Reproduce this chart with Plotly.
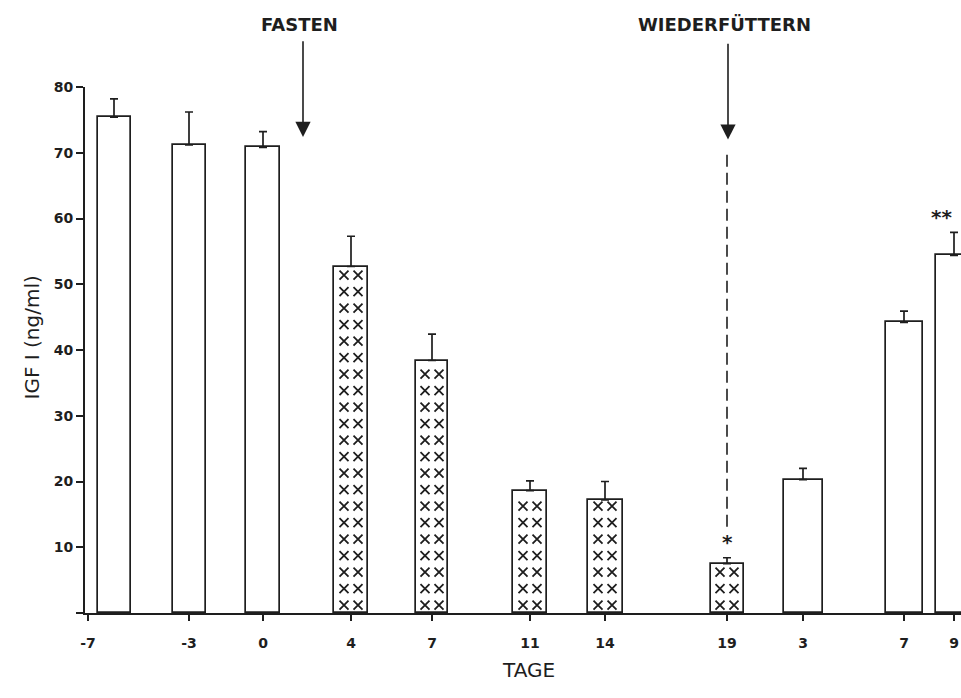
import plotly.graph_objects as go

# ---- data ----
tick_labels = ["-7", "-3", "0", "4", "7", "11", "14", "19", "3", "7", "9"]
igf_mean = [75.4, 71.2, 70.8, 52.7, 38.4, 18.6, 17.2, 7.5, 20.3, 44.2, 54.4]
igf_sem = [2.8, 5.0, 2.4, 4.6, 4.0, 1.5, 2.8, 0.9, 1.7, 1.7, 3.5]
phase = ["fed", "fed", "fed", "fast", "fast", "fast", "fast", "fast", "refed", "refed", "refed"]
signif = ["", "", "", "", "", "", "", "*", "", "", "**"]

# ---- layout (positions / sizes) ----
slot = [29, 104, 178, 266, 347, 445, 520, 642, 718, 819, 869]
bar_w = [33, 33, 34, 34, 32, 34, 35, 33, 39, 37, 36]
tick_pos = [3] + slot[1:]
X_MAX = 876
INK = "#1e1e1e"
FONT = "DejaVu Sans"

fig = go.Figure()

fig.add_trace(go.Bar(
    x=slot, y=igf_mean, width=bar_w,
    marker=dict(color="white", line=dict(color=INK, width=1.7)),
    error_y=dict(type="data", symmetric=False, array=igf_sem,
                 arrayminus=[0] * len(igf_sem), color=INK, thickness=1.7, width=4),
    showlegend=False, hoverinfo="skip",
))

# "XX" hatching inside fasting bars
row_step, row_first = 2.51, 1.2
hx, hy = [], []
for xs, v, ph in zip(slot, igf_mean, phase):
    if ph != "fast":
        continue
    yk = row_first
    while yk <= v - 0.5:
        for dx in (-7, 7):
            hx.append(xs + dx)
            hy.append(yk)
        yk += row_step
fig.add_trace(go.Scatter(
    x=hx, y=hy, mode="markers",
    marker=dict(symbol="x-thin", size=9, line=dict(color=INK, width=1.8)),
    showlegend=False, hoverinfo="skip",
))

annotations = []
# significance stars (kept inside the page at the right edge)
for xs, v, e, s in zip(slot, igf_mean, igf_sem, signif):
    if s:
        near_edge = xs + 12 > X_MAX
        annotations.append(dict(x=min(xs, X_MAX - 1), y=v + e + 2.4, xref="x", yref="y",
                                text="<b>" + s + "</b>", showarrow=False,
                                font=dict(family=FONT, size=20, color=INK),
                                xanchor="right" if near_edge else "center", yanchor="middle"))

# FASTEN arrow + label
annotations.append(dict(x=218, y=72.4, ax=218, ay=87.2, xref="x", yref="y", axref="x", ayref="y",
                        text="", showarrow=True, arrowhead=2, arrowsize=1.9, arrowwidth=1.6,
                        arrowcolor=INK))
annotations.append(dict(x=214, y=1.118, xref="x", yref="paper", text="<b>FASTEN</b>",
                        showarrow=False, yanchor="middle",
                        font=dict(family=FONT, size=18, color=INK)))
# WIEDERFÜTTERN arrow + label
annotations.append(dict(x=slot[7] + 1, y=72.0, ax=slot[7] + 1, ay=86.8, xref="x", yref="y",
                        axref="x", ayref="y", text="", showarrow=True, arrowhead=2,
                        arrowsize=1.9, arrowwidth=1.6, arrowcolor=INK))
annotations.append(dict(x=639, y=1.118, xref="x", yref="paper", text="<b>WIEDERFÜTTERN</b>",
                        showarrow=False, yanchor="middle",
                        font=dict(family=FONT, size=18, color=INK)))
# axis titles
annotations.append(dict(x=-0.0765, y=41.9, xref="paper", yref="y", text="IGF I (ng/ml)",
                        textangle=-90, showarrow=False,
                        font=dict(family=FONT, size=20, color=INK)))
annotations.append(dict(x=0.506, y=-0.135, xref="paper", yref="paper", text="TAGE",
                        showarrow=False, font=dict(family=FONT, size=20, color=INK)))

fig.add_shape(type="line", x0=slot[7], x1=slot[7], y0=13.1, y1=70.6, xref="x", yref="y",
              line=dict(color=INK, width=1.6, dash="12px,6px"))

fig.update_layout(
    width=961, height=698,
    margin=dict(l=85, r=0, t=87, b=85),
    paper_bgcolor="white", plot_bgcolor="white",
    annotations=annotations,
    xaxis=dict(range=[0, X_MAX], tickmode="array", tickvals=tick_pos, ticktext=tick_labels,
               ticks="outside", ticklen=6, tickwidth=1.6, tickcolor=INK,
               showline=True, linecolor=INK, linewidth=1.7, showgrid=False, zeroline=False,
               ticklabelstandoff=10,
               tickfont=dict(family=FONT, size=14, color=INK, weight="bold")),
    yaxis=dict(range=[0, 80], tickmode="array", tickvals=[0, 10, 20, 30, 40, 50, 60, 70, 80],
               ticktext=["", "10", "20", "30", "40", "50", "60", "70", "80"],
               ticks="outside", ticklen=7, tickwidth=1.6, tickcolor=INK,
               showline=True, linecolor=INK, linewidth=1.7, showgrid=False, zeroline=False,
               tickfont=dict(family=FONT, size=14, color=INK, weight="bold")),
    bargap=0,
)

# remove the default 8px body margin so the 961x698 figure fills the window exactly
fig.write_html("out.html", config={"displayModeBar": False},
               post_script="document.body.style.margin='0';document.body.style.overflow='hidden';")
